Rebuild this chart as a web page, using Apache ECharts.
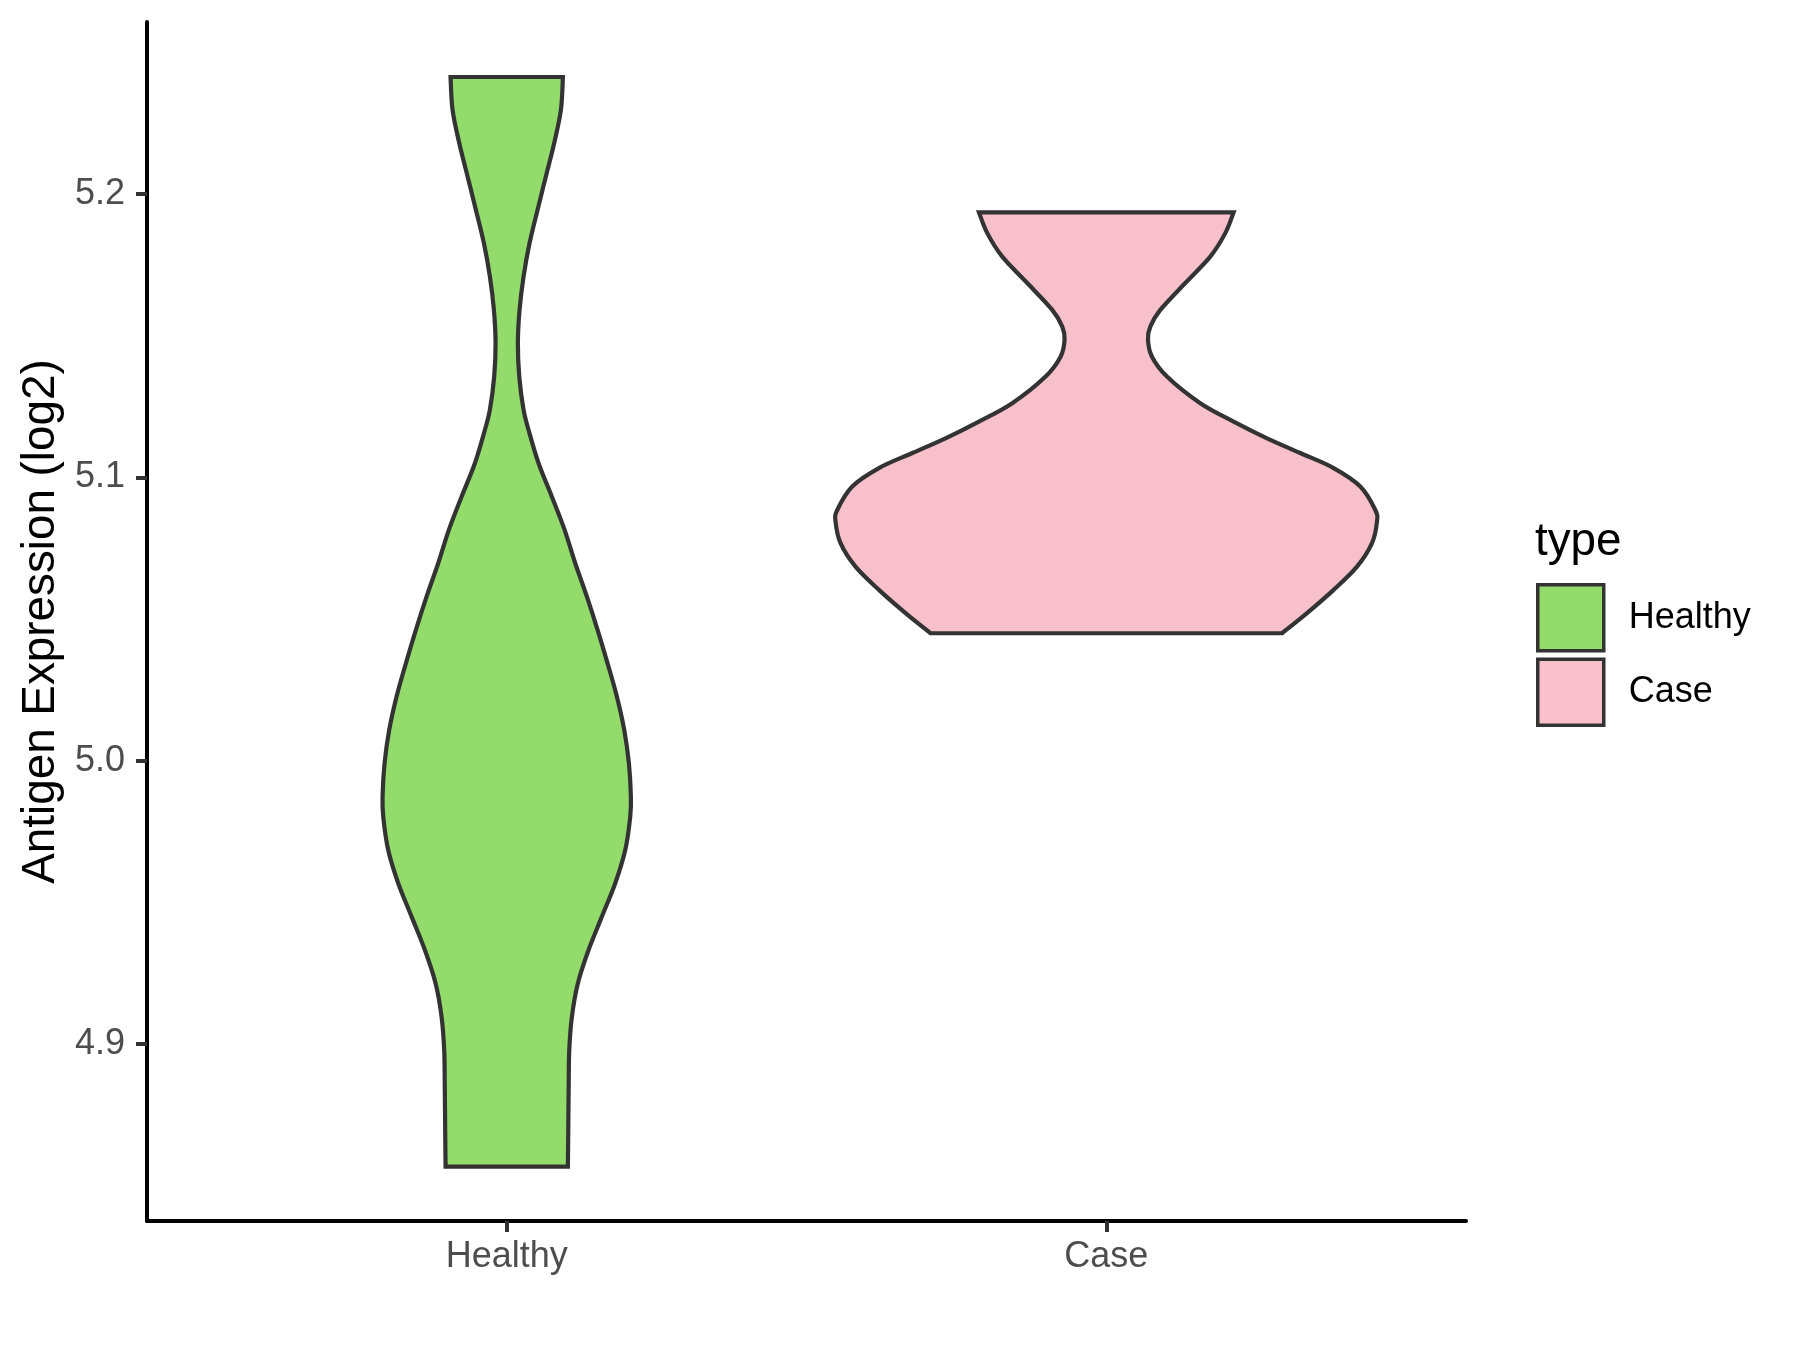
<!DOCTYPE html>
<html><head><meta charset="utf-8">
<script src="https://cdn.jsdelivr.net/npm/echarts@6/dist/echarts.min.js"></script>
<style>html,body{margin:0;padding:0;background:#fff}#c{width:1800px;height:1350px}</style>
</head><body><div id="c"></div>
<script>
// ---- data ----
const categories = ['Healthy', 'Case'];
const yTicks = [4.9, 5.0, 5.1, 5.2];
const legendTitle = 'type';
const yAxisTitle = 'Antigen Expression (log2)';
// violin outlines: [expression value, half-width in category units], top to bottom
const healthyProfile = [
  [5.2413,0.0937],[5.2297,0.0904],[5.2180,0.0792],[5.2062,0.0653],[5.1944,0.0514],
  [5.1827,0.0381],[5.1709,0.0281],[5.1591,0.0214],[5.1474,0.0186],[5.1356,0.0209],
  [5.1238,0.0281],[5.1168,0.0364],[5.1050,0.0531],[5.0932,0.0753],[5.0815,0.0965],
  [5.0697,0.1143],[5.0579,0.1337],[5.0462,0.1515],[5.0344,0.1682],[5.0226,0.1838],
  [5.0109,0.1960],[4.9991,0.2038],[4.9874,0.2071],[4.9803,0.2060],[4.9685,0.1977],
  [4.9568,0.1810],[4.9450,0.1587],[4.9332,0.1365],[4.9215,0.1187],[4.9097,0.1087],
  [4.8980,0.1043],[4.8862,0.1034],[4.8685,0.1026],[4.8568,0.1020]
];
const caseProfile = [
  [5.1935,0.2123],[5.1862,0.1985],[5.1779,0.1735],[5.1686,0.1318],[5.1591,0.0901],
  [5.1532,0.0734],[5.1485,0.0696],[5.1426,0.0762],[5.1356,0.1012],[5.1262,0.1568],
  [5.1197,0.2124],[5.1138,0.2681],[5.1086,0.3236],[5.1033,0.3792],[5.0968,0.4237],
  [5.0885,0.4487],[5.0844,0.4515],[5.0768,0.4432],[5.0685,0.4182],[5.0603,0.3792],
  [5.0521,0.3348],[5.0450,0.2931]
];
const colors = { Healthy: '#93DB6B', Case: '#F8C0CB' };

// ---- rendering ----
const FONT = '"Liberation Sans", Arial, sans-serif';

function smoothSegs(pts) {
  let d = '';
  for (let i = 0; i < pts.length - 1; i++) {
    const p0 = pts[Math.max(0, i - 1)], p1 = pts[i], p2 = pts[i + 1], p3 = pts[Math.min(pts.length - 1, i + 2)];
    const c1 = [p1[0] + (p2[0] - p0[0]) / 6, p1[1] + (p2[1] - p0[1]) / 6];
    const c2 = [p2[0] - (p3[0] - p1[0]) / 6, p2[1] - (p3[1] - p1[1]) / 6];
    d += ' C' + c1[0] + ' ' + c1[1] + ' ' + c2[0] + ' ' + c2[1] + ' ' + p2[0] + ' ' + p2[1];
  }
  return d;
}

function violinRenderer(profile, center, color) {
  return function (params, api) {
    if (params.dataIndex !== 0) return null;
    const left = profile.map(p => api.coord([center - p[1], p[0]]));
    const right = profile.map(p => api.coord([center + p[1], p[0]])).reverse();
    let d = 'M' + left[0][0] + ' ' + left[0][1] + smoothSegs(left);
    d += ' L' + right[0][0] + ' ' + right[0][1] + smoothSegs(right) + ' Z';
    return {
      type: 'path',
      shape: { pathData: d },
      style: { fill: color, stroke: '#333333', lineWidth: 4.2, lineJoin: 'miter' }
    };
  };
}

const chart = echarts.init(document.getElementById('c'), null, { renderer: 'canvas' });
const profiles = [healthyProfile, caseProfile];
const option = {
  animation: false,
  backgroundColor: '#ffffff',
  textStyle: { fontFamily: FONT },
  grid: { left: 147, right: 334, top: 22, bottom: 129, containLabel: false },
  xAxis: {
    type: 'value', min: 0.4, max: 2.6,
    splitLine: { show: false },
    axisLine: { show: true, onZero: false, lineStyle: { color: '#000', width: 4 } },
    axisTick: { show: true, customValues: [1, 2], length: 11, lineStyle: { color: '#333333', width: 4 } },
    axisLabel: { customValues: [1, 2], margin: 18, fontSize: 36, color: '#4D4D4D', fontFamily: FONT,
      formatter: v => categories[Math.round(v) - 1] }
  },
  yAxis: {
    type: 'value', min: 4.8376, max: 5.2607,
    name: yAxisTitle, nameLocation: 'middle', nameGap: 82, nameRotate: 90,
    nameTextStyle: { fontSize: 45.8, color: '#000', fontFamily: FONT },
    splitLine: { show: false },
    axisLine: { show: true, onZero: false, lineStyle: { color: '#000', width: 4 } },
    axisTick: { show: true, customValues: yTicks, length: 11, lineStyle: { color: '#333333', width: 4 } },
    axisLabel: { customValues: yTicks, margin: 22, fontSize: 36, color: '#4D4D4D', fontFamily: FONT,
      formatter: v => v.toFixed(1) }
  },
  legend: {
    orient: 'vertical', left: 1531, top: 578,
    itemWidth: 66, itemHeight: 66, itemGap: 5, icon: 'rect', selectedMode: false,
    textStyle: { fontSize: 36, color: '#000', fontFamily: FONT, padding: [0, 0, 0, 20] },
    data: categories.map(c => ({ name: c, itemStyle: { color: colors[c], borderColor: '#333333', borderWidth: 3.5 } }))
  },
  graphic: [{
    type: 'text', left: 1535, top: 519,
    style: { text: legendTitle, fontSize: 45.8, fill: '#000', fontFamily: FONT }
  }],
  series: categories.map((c, i) => ({
    name: c, type: 'custom', coordinateSystem: 'cartesian2d',
    itemStyle: { color: colors[c], borderColor: '#333333', borderWidth: 3.5 },
    encode: { x: 0, y: 1 },
    data: profiles[i].map(p => [i + 1, p[0], p[1]]),
    renderItem: violinRenderer(profiles[i], i + 1, colors[c])
  }))
};
chart.setOption(option);
</script></body></html>
